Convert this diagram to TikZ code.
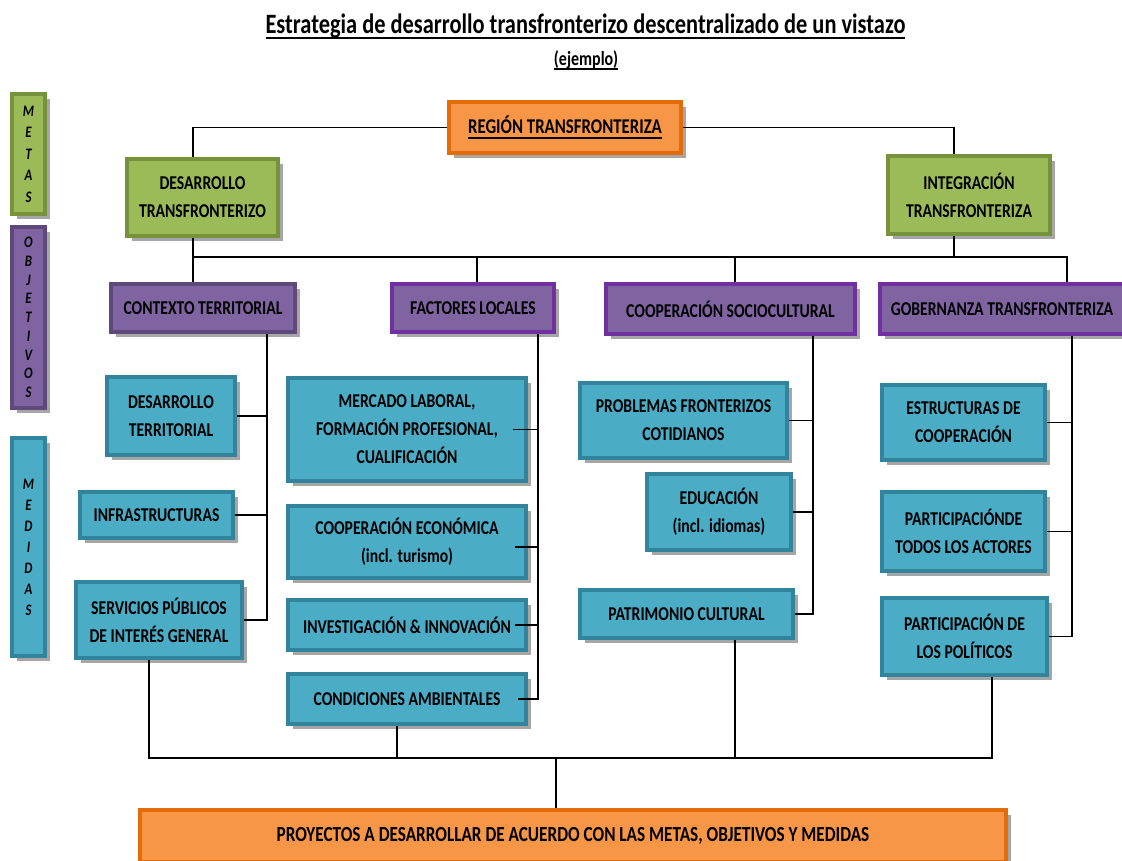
\documentclass[tikz,border=0pt]{standalone}
\usepackage{fontspec}
\setmainfont{Carlito}[FakeStretch=0.8]
\usetikzlibrary{shadows}
\definecolor{gfill}{HTML}{9BBB59}
\definecolor{gdark}{HTML}{76923C}
\definecolor{pfill}{HTML}{8064A2}
\definecolor{pdark}{HTML}{5F497A}
\definecolor{pbright}{HTML}{7030A0}
\definecolor{bfill}{HTML}{4BACC6}
\definecolor{bdark}{HTML}{31849B}
\definecolor{ofill}{HTML}{F79646}
\definecolor{odark}{HTML}{E36C09}
\definecolor{shadowc}{HTML}{A6A6A6}
\newcommand\boxfont{\fontsize{19.6}{28}\selectfont\bfseries}
\newcommand\myul[3]{\setbox0\hbox{#3}\rlap{\vrule height -#1 depth \dimexpr#1+#2\relax width \wd0}\box0}
\tikzset{
  basebox/.style={line width=4pt, align=center, inner sep=2pt, font=\boxfont,
    drop shadow={shadow xshift=5pt, shadow yshift=-5pt, fill=shadowc, opacity=1}},
  gbox/.style={basebox, draw=gdark, fill=gfill},
  pbox/.style={basebox, draw=pdark, fill=pfill},
  pboxb/.style={basebox, draw=pbright, fill=pfill},
  bbox/.style={basebox, draw=bdark, fill=bfill},
  obox/.style={basebox, draw=odark, fill=ofill},
  lbl/.style={minimum width=33pt},
  conn/.style={line width=1.2pt, black},
}
\begin{document}
\begin{tikzpicture}[x=1pt,y=-1pt]
\useasboundingbox (0,0) rectangle (1122,860);
% title
\node[inner sep=0, anchor=base, font=\fontsize{28}{30}\selectfont\bfseries] (title) at (585.5,33)
  {\myul{4pt}{2pt}{Estrategia de desarrollo transfronterizo descentralizado de un vistazo}};
\node[inner sep=0, anchor=base, font=\fontsize{20}{22}\selectfont\bfseries] (ej) at (586,65)
  {\myul{3pt}{1.5pt}{(ejemplo)}};
% left labels
\node[gbox, lbl, minimum height=120pt, font=\fontsize{16}{21.5}\selectfont\bfseries\itshape] (metas) at (28.5,154) {M\\E\\T\\A\\S};
\node[pbox, lbl, minimum height=181pt, font=\fontsize{16}{18.75}\selectfont\bfseries\itshape] (obj) at (28.5,317.5) {O\\B\\J\\E\\T\\I\\V\\O\\S};
\node[bbox, lbl, minimum height=218pt, font=\fontsize{16}{21}\selectfont\bfseries\itshape] (med) at (28.5,547) {M\\E\\D\\I\\D\\A\\S};
% level 1
\node[obox, minimum width=232pt, minimum height=51pt, font=\fontsize{21}{28}\selectfont\bfseries] (region) at (565,127.5) {\myul{3.5pt}{2pt}{REGIÓN TRANSFRONTERIZA}};
% metas
\node[gbox, minimum width=151pt, minimum height=77pt] (desTF) at (202.5,197.5) {DESARROLLO\\TRANSFRONTERIZO};
\node[gbox, minimum width=162pt, minimum height=78pt] (intTF) at (969,195) {INTEGRACIÓN\\TRANSFRONTERIZA};
% objetivos
\node[pbox, minimum width=184pt, minimum height=48pt] (contexto) at (203,308) {CONTEXTO TERRITORIAL};
\node[pboxb, minimum width=162pt, minimum height=48pt] (factores) at (473,308) {FACTORES LOCALES};
\node[pboxb, minimum width=249pt, minimum height=50pt] (coopSC) at (730.5,309) {COOPERACIÓN SOCIOCULTURAL};
\node[pboxb, minimum width=244pt, minimum height=50pt] (gobern) at (1002,309) {GOBERNANZA TRANSFRONTERIZA};
% medidas col 1
\node[bbox, minimum width=128pt, minimum height=78pt] (desTerr) at (171,416) {DESARROLLO\\TERRITORIAL};
\node[bbox, minimum width=153pt, minimum height=46pt] (infra) at (156.5,515) {INFRASTRUCTURAS};
\node[bbox, minimum width=166pt, minimum height=76pt] (serv) at (159,620) {SERVICIOS PÚBLICOS\\DE INTERÉS GENERAL};
% col 2
\node[bbox, minimum width=238pt, minimum height=103pt] (merc) at (407,429.5) {MERCADO LABORAL,\\FORMACIÓN PROFESIONAL,\\CUALIFICACIÓN};
\node[bbox, minimum width=238pt, minimum height=72pt] (coopEco) at (407,542) {COOPERACIÓN ECONÓMICA\\(incl. turismo)};
\node[bbox, minimum width=238pt, minimum height=50pt] (invest) at (407,625) {INVESTIGACIÓN \& INNOVACIÓN};
\node[bbox, minimum width=238pt, minimum height=50pt] (condic) at (407,699) {CONDICIONES AMBIENTALES};
% col 3
\node[bbox, minimum width=207pt, minimum height=75pt] (probl) at (683.5,420.5) {PROBLEMAS FRONTERIZOS\\COTIDIANOS};
\node[bbox, minimum width=144pt, minimum height=76pt] (educ) at (719,512) {EDUCACIÓN\\(incl. idiomas)};
\node[bbox, minimum width=213pt, minimum height=48pt] (patrim) at (686.5,614) {PATRIMONIO CULTURAL};
% col 4
\node[bbox, minimum width=163pt, minimum height=75pt] (estruct) at (963.5,422.5) {ESTRUCTURAS DE\\COOPERACIÓN};
\node[bbox, minimum width=163pt, minimum height=79pt] (partic) at (963.5,531.5) {PARTICIPACIÓNDE\\TODOS LOS ACTORES};
\node[bbox, minimum width=165pt, minimum height=77pt] (polit) at (964.5,636.5) {PARTICIPACIÓN DE\\LOS POLÍTICOS};
% bottom
\node[obox, minimum width=866pt, minimum height=52pt, font=\fontsize{21.5}{28}\selectfont\bfseries] (proy) at (573,836) {PROYECTOS A DESARROLLAR DE ACUERDO CON LAS METAS, OBJETIVOS Y MEDIDAS};

% connectors top
\coordinate (dN) at ([xshift=-9.5pt]desTF.north);
\coordinate (iN) at ([xshift=-15pt]intTF.north);
\draw[conn] (region.west) -| (dN);
\draw[conn] (region.east) -| (iN);
\coordinate (j2L) at (193,257);
\coordinate (j2R) at (1067,257);
\coordinate (dS) at ([xshift=-9.5pt]desTF.south);
\coordinate (cN) at ([xshift=-10pt]contexto.north);
\draw[conn] (dS) -- (cN);
\draw[conn] (j2L) -- (j2R) -- (j2R |- gobern.north);
\coordinate (iS) at ([xshift=-15pt]intTF.south);
\draw[conn] (iS) -- (iS |- j2L);
\coordinate (fN) at ([xshift=4pt]factores.north);
\draw[conn] (fN |- j2L) -- (fN);
\coordinate (sN) at ([xshift=4.5pt]coopSC.north);
\draw[conn] (sN |- j2L) -- (sN);
% contexto
\coordinate (cv) at ([xshift=64pt]contexto.south);
\draw[conn] (cv) |- (serv.east);
\draw[conn] (desTerr.east) -- (desTerr.east -| cv);
\draw[conn] (infra.east) -- (infra.east -| cv);
% factores
\coordinate (fv) at ([xshift=65pt]factores.south);
\coordinate (mE) at ([xshift=-15pt]merc.east);
\coordinate (ceE) at ([xshift=-13pt,yshift=-5pt]coopEco.east);
\coordinate (inE) at ([xshift=-13pt]invest.east);
\coordinate (coE) at ([xshift=-10pt]condic.east);
\draw[conn] (fv) |- (coE);
\draw[conn] (mE) -- (mE -| fv);
\draw[conn] (ceE) -- (ceE -| fv);
\draw[conn] (inE) -- (inE -| fv);
% sociocultural
\coordinate (sv) at ([xshift=82.5pt]coopSC.south);
\draw[conn] (sv) |- (patrim.east);
\draw[conn] (probl.east) -- (probl.east -| sv);
\draw[conn] (educ.east) -- (educ.east -| sv);
% gobernanza
\coordinate (gv) at ([xshift=70pt]gobern.south);
\draw[conn] (gv) |- (polit.east);
\draw[conn] (estruct.east) -- (estruct.east -| gv);
\draw[conn] (partic.east) -- (partic.east -| gv);
% bottom
\coordinate (jb) at (556,758);
\coordinate (b1) at ([xshift=-10pt]serv.south);
\coordinate (b2) at ([xshift=-10pt]condic.south);
\coordinate (b3) at ([xshift=48.5pt]patrim.south);
\coordinate (b4) at ([xshift=27.5pt]polit.south);
\draw[conn] (b1) |- (b4 |- jb) -- (b4);
\draw[conn] (b2) -- (b2 |- jb);
\draw[conn] (b3) -- (b3 |- jb);
\draw[conn] (jb) -- (jb |- proy.north);
\end{tikzpicture}
\end{document}
